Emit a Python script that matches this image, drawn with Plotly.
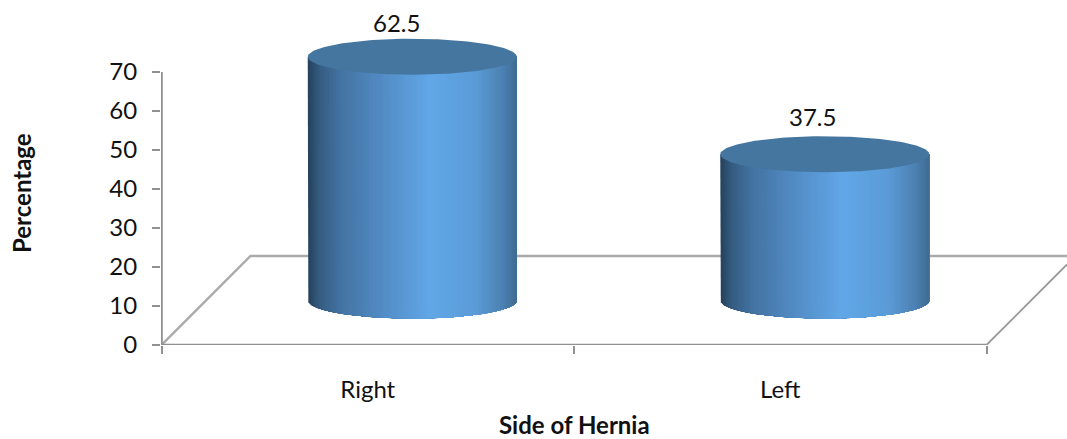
import numpy as np
import plotly.graph_objects as go

# Chart data
categories = ["Right", "Left"]
percentages = [62.5, 37.5]
y_ticks = [0, 10, 20, 30, 40, 50, 60, 70]

FONT = "Lato, Carlito, sans-serif"
W, H = 1067, 439
LEFT, BOTTOM_PX = 161, 345
PX_PER_CAT = 412.5
PX_PER_UNIT = 3.9

# Floor depth and cylinder proportions, converted from pixels to axis units
depth_x = 89 / PX_PER_CAT
depth_y = 89 / PX_PER_UNIT
wall_x = (1067 - 986.5) / PX_PER_CAT
radius_x = 104.5 / PX_PER_CAT
radius_y = 18 / PX_PER_UNIT
base_y = 44.5 / PX_PER_UNIT
shift_x = 44.5 / PX_PER_CAT

# Shading across the curved cylinder wall: (fraction of width, colour)
shade_stops = [
    (0.00, (0x26, 0x44, 0x60)),
    (0.05, (0x35, 0x5c, 0x80)),
    (0.15, (0x43, 0x73, 0xa2)),
    (0.32, (0x50, 0x88, 0xc0)),
    (0.58, (0x61, 0xa7, 0xe7)),
    (0.80, (0x5a, 0x9b, 0xd7)),
    (0.93, (0x4c, 0x80, 0xb1)),
    (1.00, (0x3e, 0x69, 0x8f)),
]
top_colour = "#45769f"


def shade(t):
    fracs = [s[0] for s in shade_stops]
    rgb = [np.interp(t, fracs, [s[1][c] for s in shade_stops]) for c in range(3)]
    return "rgb(%d,%d,%d)" % tuple(int(round(v)) for v in rgb)


fig = go.Figure()


def line(xs, ys, colour, width):
    fig.add_trace(go.Scatter(x=xs, y=ys, mode="lines", cliponaxis=False,
                             line=dict(color=colour, width=width),
                             hoverinfo="skip", showlegend=False))


# Floor outline, then the two axis lines
line([-0.5, -0.5 + depth_x, -0.5 + 906 / PX_PER_CAT], [0, depth_y, depth_y], "#aaaaaa", 2.4)
line([1.5, 1.5 + wall_x], [0, wall_x * PX_PER_CAT / PX_PER_UNIT], "#999999", 1.8)
line([-0.5, 1.5], [0, 0], "#919191", 2.6)
line([-0.5, -0.5], [0, 70], "#919191", 2.6)


def cylinder(cx, value):
    top = base_y + value
    theta = np.linspace(np.pi, 2 * np.pi, 121)
    arc_x = cx + radius_x * np.cos(theta)
    arc_y = base_y + radius_y * np.sin(theta)
    # Each slice runs to the right edge and is overpainted by the next, so no seams show
    for t in np.linspace(0, 1, 90)[:-1]:
        left = cx - radius_x + 2 * radius_x * t
        keep = arc_x >= left
        low_y = base_y - radius_y * np.sqrt(max(1 - ((left - cx) / radius_x) ** 2, 0))
        xs = np.r_[left, left, arc_x[keep], cx + radius_x, left]
        ys = np.r_[top, low_y, arc_y[keep], top, top]
        fig.add_trace(go.Scatter(x=xs, y=ys, mode="lines", fill="toself",
                                 fillcolor=shade(t), line=dict(width=0),
                                 hoverinfo="skip", showlegend=False))
    theta = np.linspace(0, 2 * np.pi, 181)
    fig.add_trace(go.Scatter(x=cx + radius_x * np.cos(theta),
                             y=top + radius_y * np.sin(theta),
                             mode="lines", fill="toself", fillcolor=top_colour,
                             line=dict(width=0), hoverinfo="skip", showlegend=False))


for i, v in enumerate(percentages):
    cylinder(i + shift_x, v)

# Value labels sit above the lid of each cylinder
label_nudge_px = [34, 38]
label_shift_px = [-16, -12]
for i, v in enumerate(percentages):
    fig.add_annotation(x=i + shift_x, y=base_y + v, text=str(v), showarrow=False,
                       xshift=label_shift_px[i], yshift=label_nudge_px[i],
                       font=dict(family=FONT, size=24, color="#111111"))

fig.add_annotation(x=0.5, xref="x", xanchor="center",
                   y=(BOTTOM_PX - 424) / BOTTOM_PX, yref="paper", yanchor="middle",
                   text="<b>Side of Hernia</b>", showarrow=False,
                   font=dict(family=FONT, size=24, color="#111111"))
fig.add_annotation(x=(22 - LEFT) / (W - LEFT), xref="paper", xanchor="center",
                   y=(BOTTOM_PX - 193) / BOTTOM_PX, yref="paper", yanchor="middle",
                   text="<b>Percentage</b>", textangle=-90, showarrow=False,
                   font=dict(family=FONT, size=24, color="#111111"))

fig.update_layout(
    width=W, height=H, autosize=False,
    margin=dict(l=LEFT, r=0, t=0, b=H - BOTTOM_PX, pad=0),
    paper_bgcolor="white", plot_bgcolor="white", showlegend=False,
    xaxis=dict(
        range=[-0.5 - 0.5 / PX_PER_CAT, -0.5 + 905.5 / PX_PER_CAT],
        tickvals=[0, 1], ticktext=categories, ticks="", showgrid=False, zeroline=False,
        showline=False, ticklabelstandoff=28,
        tickfont=dict(family=FONT, size=24, color="#111111"),
        minor=dict(tickmode="array", tickvals=[-0.5, 0.5, 1.5], ticks="outside",
                   ticklen=8, tickwidth=2.4, tickcolor="#919191", showgrid=False),
    ),
    yaxis=dict(
        range=[0, BOTTOM_PX / PX_PER_UNIT], tickvals=y_ticks, ticks="outside",
        ticklen=8, tickwidth=2.4, tickcolor="#919191", showgrid=False, zeroline=False,
        showline=False, ticklabelstandoff=10,
        tickfont=dict(family=FONT, size=24, color="#111111"),
    ),
)

fig.write_html("out.html", config=dict(displayModeBar=False))
